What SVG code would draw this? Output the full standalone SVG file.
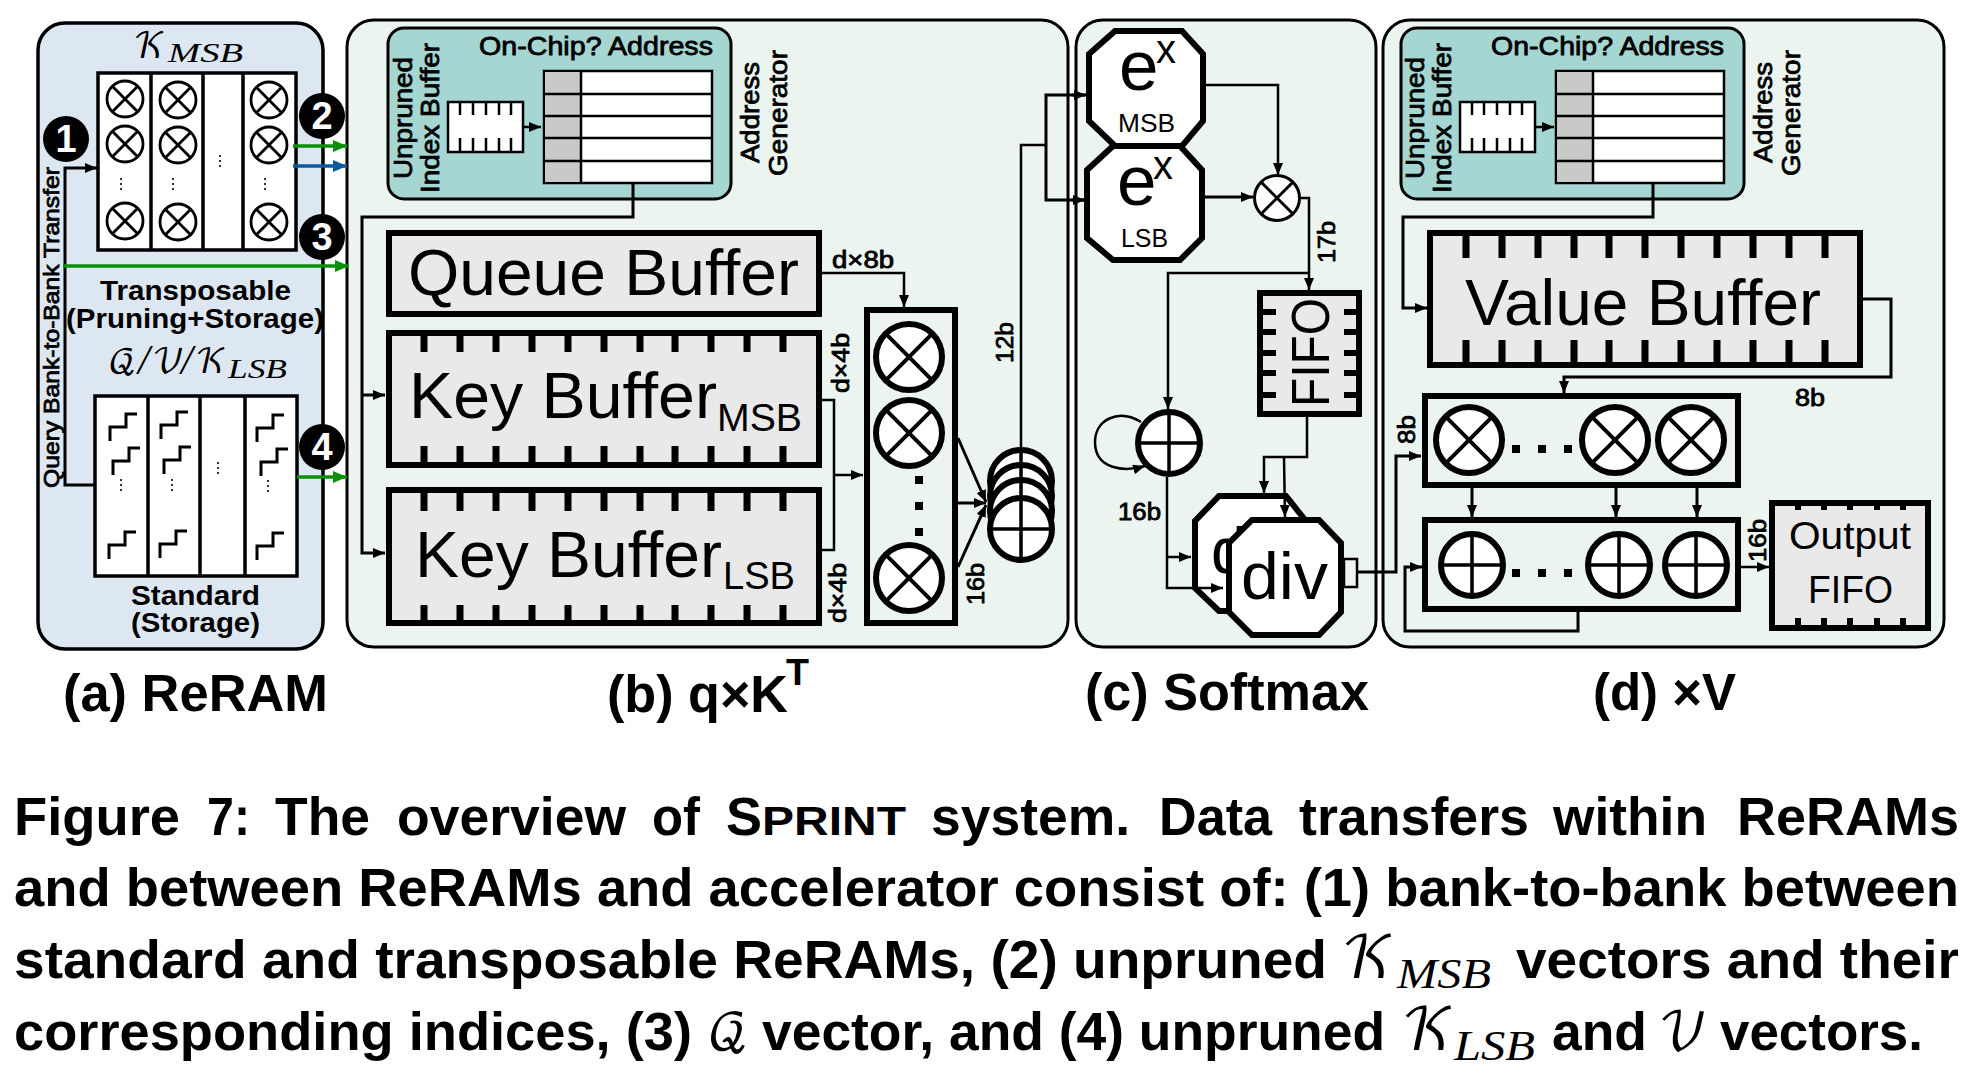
<svg xmlns="http://www.w3.org/2000/svg" width="1974" height="1072" viewBox="0 0 1974 1072">
<style>
text{font-family:"Liberation Sans",Arial,sans-serif;fill:#000}
.b{font-weight:bold}
.m{stroke:#000;stroke-width:.8}
.cal{font-family:"DejaVu Math TeX Gyre","Liberation Serif",serif;font-style:normal}
.mi{font-family:"Liberation Serif",serif;font-style:italic}
.panelA{fill:#dde7f1;stroke:#000;stroke-width:3.5}
.panel{fill:#ebf4ef;stroke:#000;stroke-width:3}
.teal{fill:#a6d6d2;stroke:#000;stroke-width:3}
.arr{fill:#fff;stroke:#000;stroke-width:3.5}
.w2{fill:#fff;stroke:#000;stroke-width:2.5}
.grey{fill:#c9c9c9}
.thin{fill:none;stroke:#000;stroke-width:2.5}
.buf{fill:#e9e9e9;stroke:#000;stroke-width:6}
.box{fill:none;stroke:#000;stroke-width:6}
.oct{fill:#fff;stroke:#000;stroke-width:6;stroke-linejoin:miter}
.tick{fill:none;stroke:#000;stroke-width:7}
.tk2{fill:none;stroke:#000;stroke-width:2.5}
.con{fill:none;stroke:#000;stroke-width:2.5}
.con3{fill:none;stroke:#000;stroke-width:3}
.gr{fill:none;stroke:#0a8f0a;stroke-width:3.5}
.bl{fill:none;stroke:#0a5a9c;stroke-width:3.5}
.dash{fill:none;stroke:#000;stroke-width:1.6;stroke-dasharray:2 3}
.step{fill:none;stroke:#000;stroke-width:3}
.badge{fill:#000}
.digit{fill:#fff;font-weight:bold;font-size:38px;text-anchor:middle}
.sq{fill:#000}
</style>
<defs>
<marker id="a" viewBox="0 0 12 10" refX="12" refY="5" markerWidth="12" markerHeight="10" markerUnits="userSpaceOnUse" orient="auto"><path d="M0 0L12 5L0 10z" fill="#000"/></marker>
<marker id="ag" viewBox="0 0 14 12" refX="14" refY="6" markerWidth="14" markerHeight="12" markerUnits="userSpaceOnUse" orient="auto"><path d="M0 0L14 6L0 12z" fill="#0a8f0a"/></marker>
<marker id="ab" viewBox="0 0 14 12" refX="14" refY="6" markerWidth="14" markerHeight="12" markerUnits="userSpaceOnUse" orient="auto"><path d="M0 0L14 6L0 12z" fill="#0a5a9c"/></marker>
<g id="otS"><circle r="18" fill="#fff" stroke="#000" stroke-width="2.8"/><path d="M-12.700-12.700L12.700 12.700M12.700-12.700L-12.700 12.700" stroke="#000" stroke-width="2.8"/></g>
<g id="otB"><circle r="33" fill="#fff" stroke="#000" stroke-width="6"/><path d="M-23.300-23.300L23.300 23.300M23.300-23.300L-23.300 23.300" stroke="#000" stroke-width="4"/></g>
<g id="opB"><circle r="31" fill="#fff" stroke="#000" stroke-width="6"/><path d="M-31 0H31M0-31V31" stroke="#000" stroke-width="3.5"/></g>
<g id="smallBuf"><rect width="75" height="50" class="w2"/></g>
<g id="table"><rect width="168" height="112" class="w2"/><rect x="1" y="1" width="36" height="110" class="grey"/><path d="M37 0V112M0 23H168M0 45H168M0 67H168M0 90H168" class="thin"/></g>
<g id="st"><path d="M0 0V-14H16V-27H27" class="step"/></g>
</defs>

<rect id="panel-a" x="38" y="23" width="285" height="626" rx="27" class="panelA"/>
<rect id="panel-b" x="347" y="20" width="721" height="627" rx="27" class="panel"/>
<rect id="panel-c" x="1076" y="20" width="300" height="627" rx="27" class="panel"/>
<rect id="panel-d" x="1383" y="20" width="561" height="627" rx="27" class="panel"/>

<g id="array-transposable">
<rect x="98" y="73" width="198" height="177" class="arr"/>
<path d="M151 73V250M203 73V250M243 73V250" class="arr"/>
<use href="#otS" x="125" y="99"/><use href="#otS" x="125" y="144"/><use href="#otS" x="125" y="221"/>
<use href="#otS" x="178" y="100"/><use href="#otS" x="178" y="145"/><use href="#otS" x="178" y="222"/>
<use href="#otS" x="269" y="100"/><use href="#otS" x="269" y="145"/><use href="#otS" x="269" y="222"/>
<path d="M121 178V190M173 178V190M220 155V167M265 178V190" class="dash"/>
</g>
<g id="array-standard">
<rect x="95" y="396" width="202" height="180" class="arr"/>
<path d="M148 396V576M200 396V576M245 396V576" class="arr"/>
<use href="#st" x="110" y="441"/><use href="#st" x="113" y="475"/><use href="#st" x="109" y="559"/>
<use href="#st" x="161" y="439"/><use href="#st" x="164" y="474"/><use href="#st" x="160" y="558"/>
<use href="#st" x="257" y="442"/><use href="#st" x="261" y="476"/><use href="#st" x="257" y="560"/>
<path d="M121 479V491M172 479V491M218 462V474M268 480V492" class="dash"/>
</g>

<g id="badges">
<circle cx="66" cy="139" r="23" class="badge"/><text x="66" y="152" class="digit">1</text>
<circle cx="322" cy="116" r="23" class="badge"/><text x="322" y="129" class="digit">2</text>
<circle cx="322" cy="237" r="23" class="badge"/><text x="322" y="250" class="digit">3</text>
<circle cx="322" cy="447" r="23" class="badge"/><text x="322" y="460" class="digit">4</text>
</g>

<g id="labels-a">
<text x="133" y="58" font-size="35" class="cal">𝒦</text>
<text x="168" y="62" font-size="27" class="mi" textLength="75" lengthAdjust="spacingAndGlyphs">MSB</text>
<text x="108" y="373" font-size="34" class="cal">𝒬</text>
<text x="138" y="374" font-size="42" class="mi">/</text>
<text x="152" y="373" font-size="34" class="cal">𝒱</text>
<text x="181" y="374" font-size="42" class="mi">/</text>
<text x="195" y="373" font-size="34" class="cal">𝒦</text>
<text x="228" y="378" font-size="27" class="mi" textLength="59" lengthAdjust="spacingAndGlyphs">LSB</text>
<text transform="translate(59,488) rotate(-90)" font-size="22" class="m" textLength="321" lengthAdjust="spacingAndGlyphs">Query Bank-to-Bank Transfer</text>
<text x="100" y="300" font-size="28" class="b" textLength="191" lengthAdjust="spacingAndGlyphs">Transposable</text>
<text x="66" y="328" font-size="28" class="b" textLength="258" lengthAdjust="spacingAndGlyphs">(Pruning+Storage)</text>
<text x="131" y="605" font-size="28" class="b" textLength="129" lengthAdjust="spacingAndGlyphs">Standard</text>
<text x="131" y="632" font-size="28" class="b" textLength="129" lengthAdjust="spacingAndGlyphs">(Storage)</text>
</g>

<g id="addr-gen-b">
<rect x="388" y="28" width="343" height="171" rx="16" class="teal"/>
<text x="479" y="55" font-size="26" class="m" textLength="234" lengthAdjust="spacingAndGlyphs">On-Chip?  Address</text>
<use href="#table" x="544" y="71"/>
<use href="#smallBuf" x="448" y="102"/>
<path d="M460 102V115M473 102V115M486 102V115M499 102V115M511 102V115M460 138V152M473 138V152M486 138V152M499 138V152M511 138V152" class="tk2"/>
<text transform="translate(412,179) rotate(-90)" font-size="26" class="m" textLength="122" lengthAdjust="spacingAndGlyphs">Unpruned</text>
<text transform="translate(439,193) rotate(-90)" font-size="26" class="m" textLength="150" lengthAdjust="spacingAndGlyphs">Index Buffer</text>
<text transform="translate(759,163) rotate(-90)" font-size="26" class="m" textLength="101" lengthAdjust="spacingAndGlyphs">Address</text>
<text transform="translate(787,176) rotate(-90)" font-size="26" class="m" textLength="126" lengthAdjust="spacingAndGlyphs">Generator</text>
</g>
<g id="queue-buffer">
<rect x="389" y="233" width="430" height="81" class="buf"/>
<text x="408" y="295" font-size="64" textLength="391" lengthAdjust="spacingAndGlyphs">Queue Buffer</text>
</g>
<g id="key-buffer-msb">
<rect x="389" y="333" width="430" height="132" class="buf"/>
<path d="M424 333V352M460 333V352M496 333V352M532 333V352M568 333V352M604 333V352M640 333V352M675 333V352M711 333V352M747 333V352M783 333V352M424 446V465M460 446V465M496 446V465M532 446V465M568 446V465M604 446V465M640 446V465M675 446V465M711 446V465M747 446V465M783 446V465" class="tick"/>
<text x="409" y="418" font-size="64" textLength="308" lengthAdjust="spacingAndGlyphs">Key Buffer</text>
<text x="717" y="431" font-size="38" textLength="85" lengthAdjust="spacingAndGlyphs">MSB</text>
</g>
<g id="key-buffer-lsb">
<rect x="389" y="490" width="430" height="133" class="buf"/>
<path d="M424 490V511M460 490V511M496 490V511M532 490V511M568 490V511M604 490V511M640 490V511M675 490V511M711 490V511M747 490V511M783 490V511M424 605V623M460 605V623M496 605V623M532 605V623M568 605V623M604 605V623M640 605V623M675 605V623M711 605V623M747 605V623M783 605V623" class="tick"/>
<text x="415" y="577" font-size="64" textLength="307" lengthAdjust="spacingAndGlyphs">Key Buffer</text>
<text x="723" y="589" font-size="38" textLength="72" lengthAdjust="spacingAndGlyphs">LSB</text>
</g>
<g id="mult-column">
<rect x="867" y="310" width="88" height="313" class="box"/>
<use href="#otB" x="909" y="357"/><use href="#otB" x="909" y="433"/><use href="#otB" x="909" y="578"/>
<rect x="915" y="476" width="8" height="8" class="sq"/><rect x="915" y="502" width="8" height="8" class="sq"/><rect x="915" y="528" width="8" height="8" class="sq"/>
</g>
<g id="adder-stack">
<use href="#opB" x="1021" y="481"/><use href="#opB" x="1021" y="496"/><use href="#opB" x="1021" y="511"/><use href="#opB" x="1021" y="529"/>
</g>
<g id="labels-b">
<text x="832" y="268" font-size="23" class="m" textLength="62" lengthAdjust="spacingAndGlyphs">d×8b</text>
<text transform="translate(849,393) rotate(-90)" font-size="23" class="m" textLength="60" lengthAdjust="spacingAndGlyphs">d×4b</text>
<text transform="translate(846,623) rotate(-90)" font-size="23" class="m" textLength="60" lengthAdjust="spacingAndGlyphs">d×4b</text>
<text transform="translate(1013,363) rotate(-90)" font-size="23" class="m" textLength="41" lengthAdjust="spacingAndGlyphs">12b</text>
<text transform="translate(984,605) rotate(-90)" font-size="23" class="m" textLength="42" lengthAdjust="spacingAndGlyphs">16b</text>
</g>

<g id="ex-msb">
<path d="M1115 31H1182L1203 54V121L1182 146H1115L1089 121V54Z" class="oct"/>
<text x="1119" y="90" font-size="71">e</text><text x="1156" y="63" font-size="40">x</text>
<text x="1118" y="132" font-size="26" textLength="57" lengthAdjust="spacingAndGlyphs">MSB</text>
</g>
<g id="ex-lsb">
<path d="M1113 146H1180L1202 170V238L1180 260H1113L1087 238V170Z" class="oct"/>
<text x="1117" y="205" font-size="71">e</text><text x="1153" y="179" font-size="40">x</text>
<text x="1121" y="247" font-size="26" textLength="47" lengthAdjust="spacingAndGlyphs">LSB</text>
</g>
<g id="mul-c">
<circle cx="1277" cy="198" r="22.500" fill="#fff" stroke="#000" stroke-width="3"/>
<path d="M1261 182L1293 214M1293 182L1261 214" stroke="#000" stroke-width="3"/>
</g>
<g id="fifo-c">
<rect x="1260" y="293" width="99" height="121" class="buf"/>
<path d="M1258 312H1276M1258 332H1276M1258 353H1276M1258 373H1276M1258 395H1276M1344 312H1361M1344 332H1361M1344 353H1361M1344 373H1361M1344 395H1361" class="con" style="stroke-width:6"/>
<text transform="translate(1329,407) rotate(-90)" font-size="54" textLength="109" lengthAdjust="spacingAndGlyphs">FIFO</text>
</g>
<g id="adder-c"><use href="#opB" x="1169" y="443"/></g>
<g id="div-back">
<path d="M1219 496H1286L1325 545V588L1286 611H1219L1195 588V521Z" class="oct"/>
<text x="1211" y="573" font-size="64">div</text>
</g>
<g id="div-front">
<path d="M1252 520H1319L1341 543V612L1319 635H1252L1229 612V543Z" class="oct"/>
<text x="1241" y="599" font-size="66" textLength="87" lengthAdjust="spacingAndGlyphs">div</text>
<rect x="1344" y="559" width="13" height="28" fill="#ebf4ef" stroke="#000" stroke-width="2.500"/>
</g>
<g id="labels-c">
<text transform="translate(1335,263) rotate(-90)" font-size="23" class="m" textLength="42" lengthAdjust="spacingAndGlyphs">17b</text>
<text x="1118" y="520" font-size="23" class="m" textLength="43" lengthAdjust="spacingAndGlyphs">16b</text>
</g>

<g id="addr-gen-d">
<rect x="1401" y="28" width="343" height="171" rx="16" class="teal"/>
<text x="1491" y="55" font-size="26" class="m" textLength="233" lengthAdjust="spacingAndGlyphs">On-Chip?  Address</text>
<use href="#table" x="1556" y="71"/>
<use href="#smallBuf" x="1460" y="102"/>
<path d="M1472 102V115M1484 102V115M1497 102V115M1510 102V115M1522 102V115M1472 138V152M1484 138V152M1497 138V152M1510 138V152M1522 138V152" class="tk2"/>
<text transform="translate(1424,179) rotate(-90)" font-size="26" class="m" textLength="122" lengthAdjust="spacingAndGlyphs">Unpruned</text>
<text transform="translate(1451,193) rotate(-90)" font-size="26" class="m" textLength="150" lengthAdjust="spacingAndGlyphs">Index Buffer</text>
<text transform="translate(1772,163) rotate(-90)" font-size="26" class="m" textLength="101" lengthAdjust="spacingAndGlyphs">Address</text>
<text transform="translate(1800,176) rotate(-90)" font-size="26" class="m" textLength="126" lengthAdjust="spacingAndGlyphs">Generator</text>
</g>
<g id="value-buffer">
<rect x="1430" y="233" width="430" height="132" class="buf"/>
<path d="M1466 233V258M1502 233V258M1538 233V258M1574 233V258M1609 233V258M1645 233V258M1681 233V258M1717 233V258M1753 233V258M1789 233V258M1825 233V258M1466 340V365M1502 340V365M1538 340V365M1574 340V365M1609 340V365M1645 340V365M1681 340V365M1717 340V365M1753 340V365M1789 340V365M1825 340V365" class="tick"/>
<text x="1465" y="325" font-size="64" textLength="356" lengthAdjust="spacingAndGlyphs">Value Buffer</text>
</g>
<g id="mult-row">
<rect x="1425" y="396" width="313" height="89" class="box"/>
<use href="#otB" x="1469" y="440"/><use href="#otB" x="1615" y="440"/><use href="#otB" x="1691" y="440"/>
<rect x="1512" y="445" width="8" height="8" class="sq"/><rect x="1538" y="445" width="8" height="8" class="sq"/><rect x="1564" y="445" width="8" height="8" class="sq"/>
</g>
<g id="add-row">
<rect x="1425" y="520" width="313" height="89" class="box"/>
<use href="#opB" x="1472" y="565"/><use href="#opB" x="1619" y="565"/><use href="#opB" x="1696" y="565"/>
<rect x="1512" y="569" width="8" height="8" class="sq"/><rect x="1538" y="569" width="8" height="8" class="sq"/><rect x="1564" y="569" width="8" height="8" class="sq"/>
</g>
<g id="output-fifo">
<rect x="1772" y="503" width="156" height="125" class="buf"/>
<path d="M1798 503V510M1824 503V510M1850 503V510M1877 503V510M1903 503V510M1798 618V628M1824 618V628M1850 618V628M1877 618V628M1903 618V628" class="con" style="stroke-width:6"/>
<text x="1789" y="549" font-size="38" textLength="122" lengthAdjust="spacingAndGlyphs">Output</text>
<text x="1808" y="603" font-size="38" textLength="85" lengthAdjust="spacingAndGlyphs">FIFO</text>
</g>
<g id="labels-d">
<text x="1795" y="406" font-size="23" class="m" textLength="30" lengthAdjust="spacingAndGlyphs">8b</text>
<text transform="translate(1415,444) rotate(-90)" font-size="23" class="m" textLength="29" lengthAdjust="spacingAndGlyphs">8b</text>
<text transform="translate(1766,562) rotate(-90)" font-size="23" class="m" textLength="43" lengthAdjust="spacingAndGlyphs">16b</text>
</g>

<g id="connectors">
<path d="M94 485H65V168H97" class="con3" marker-end="url(#a)"/>
<path d="M293 146H347" class="gr" marker-end="url(#ag)"/>
<path d="M293 166H347" class="bl" marker-end="url(#ab)"/>
<path d="M63 266H349" class="gr" marker-end="url(#ag)"/>
<path d="M297 477H347" class="gr" marker-end="url(#ag)"/>
<path d="M523 127H541" class="con" marker-end="url(#a)"/>
<path d="M633 183V217H362V553H385" class="con3" marker-end="url(#a)"/>
<path d="M362 395H385" class="con3" marker-end="url(#a)"/>
<path d="M822 400H834V550H822" class="con"/>
<path d="M834 475H863" class="con" marker-end="url(#a)"/>
<path d="M822 273H904V307" class="con" marker-end="url(#a)"/>
<path d="M958 438L986 502" class="con3" marker-end="url(#a)"/>
<path d="M958 503H986" class="con3" marker-end="url(#a)"/>
<path d="M958 567L986 505" class="con3" marker-end="url(#a)"/>
<path d="M1021 450V145H1046" class="con"/>
<path d="M1085 95H1046V200H1085" class="con3"/>
<path d="M1072 95H1086" class="con3" marker-end="url(#a)"/>
<path d="M1072 200H1085" class="con3" marker-end="url(#a)"/>
<path d="M1206 85H1278V175" class="con" marker-end="url(#a)"/>
<path d="M1205 197H1253" class="con3" marker-end="url(#a)"/>
<path d="M1300 198H1309V290" class="con" marker-end="url(#a)"/>
<path d="M1309 273H1168V409" class="con" marker-end="url(#a)"/>
<path d="M1141 422C1118 408 1095 420 1095 442C1095 470 1125 472 1145 466" class="con" marker-end="url(#a)"/>
<path d="M1167 477V588H1223" class="con" marker-end="url(#a)"/>
<path d="M1167 557H1191" class="con" marker-end="url(#a)"/>
<path d="M1307 417V457H1264V493" class="con" marker-end="url(#a)"/>
<path d="M1284 457L1285 517" class="con" marker-end="url(#a)"/>
<path d="M1357 572H1396V456H1421" class="con3" marker-end="url(#a)"/>
<path d="M1536 127H1554" class="con" marker-end="url(#a)"/>
<path d="M1653 183V217H1403V308H1427" class="con3" marker-end="url(#a)"/>
<path d="M1863 299H1891V377H1564V393" class="con3" marker-end="url(#a)"/>
<path d="M1472 488V517" class="con3" marker-end="url(#a)"/>
<path d="M1616 488V517" class="con3" marker-end="url(#a)"/>
<path d="M1697 488V517" class="con3" marker-end="url(#a)"/>
<path d="M1578 612V631H1405V567H1422" class="con3" marker-end="url(#a)"/>
<path d="M1741 567H1769" class="con" marker-end="url(#a)"/>
</g>

<g id="subtitles" class="b">
<text x="63" y="711" font-size="51" class="b" textLength="265" lengthAdjust="spacingAndGlyphs">(a) ReRAM</text>
<text x="607" y="712" font-size="51" class="b" textLength="181" lengthAdjust="spacingAndGlyphs">(b) q×K</text>
<text x="786" y="685" font-size="37" class="b" textLength="23" lengthAdjust="spacingAndGlyphs">T</text>
<text x="1085" y="710" font-size="51" class="b" textLength="284" lengthAdjust="spacingAndGlyphs">(c) Softmax</text>
<text x="1593" y="710" font-size="51" class="b" textLength="143" lengthAdjust="spacingAndGlyphs">(d) ×V</text>
</g>

<g id="caption" font-size="53">
<text x="14" y="835" font-size="53" class="b" textLength="166" lengthAdjust="spacingAndGlyphs">Figure</text>
<text x="207" y="835" font-size="53" class="b" textLength="43" lengthAdjust="spacingAndGlyphs">7:</text>
<text x="275" y="835" font-size="53" class="b" textLength="95" lengthAdjust="spacingAndGlyphs">The</text>
<text x="397" y="835" font-size="53" class="b" textLength="229" lengthAdjust="spacingAndGlyphs">overview</text>
<text x="652" y="835" font-size="53" class="b" textLength="48" lengthAdjust="spacingAndGlyphs">of</text>
<text x="726" y="835" font-size="53" class="b" textLength="36" lengthAdjust="spacingAndGlyphs">S</text>
<text x="762" y="835" font-size="41" class="b" textLength="144" lengthAdjust="spacingAndGlyphs">PRINT</text>
<text x="931" y="835" font-size="53" class="b" textLength="199" lengthAdjust="spacingAndGlyphs">system.</text>
<text x="1159" y="835" font-size="53" class="b" textLength="113" lengthAdjust="spacingAndGlyphs">Data</text>
<text x="1299" y="835" font-size="53" class="b" textLength="230" lengthAdjust="spacingAndGlyphs">transfers</text>
<text x="1553" y="835" font-size="53" class="b" textLength="154" lengthAdjust="spacingAndGlyphs">within</text>
<text x="1737" y="835" font-size="53" class="b" textLength="222" lengthAdjust="spacingAndGlyphs">ReRAMs</text>
<text x="14" y="906" font-size="53" class="b" textLength="1945" lengthAdjust="spacingAndGlyphs">and between ReRAMs and accelerator consist of: (1) bank-to-bank between</text>
<text x="14" y="978" font-size="53" class="b" textLength="1313" lengthAdjust="spacingAndGlyphs">standard and transposable ReRAMs, (2) unpruned</text>
<text x="1341" y="978" font-size="58" class="cal">𝒦</text>
<text x="1397" y="988" font-size="43" class="mi" textLength="94" lengthAdjust="spacingAndGlyphs">MSB</text>
<text x="1516" y="978" font-size="53" class="b" textLength="443" lengthAdjust="spacingAndGlyphs">vectors and their</text>
<text x="14" y="1050" font-size="53" class="b" textLength="678" lengthAdjust="spacingAndGlyphs">corresponding indices, (3)</text>
<text x="707" y="1050" font-size="50" class="cal">𝒬</text>
<text x="762" y="1050" font-size="53" class="b" textLength="623" lengthAdjust="spacingAndGlyphs">vector, and (4) unpruned</text>
<text x="1401" y="1050" font-size="58" class="cal">𝒦</text>
<text x="1454" y="1060" font-size="43" class="mi" textLength="81" lengthAdjust="spacingAndGlyphs">LSB</text>
<text x="1552" y="1050" font-size="53" class="b" textLength="95" lengthAdjust="spacingAndGlyphs">and</text>
<text x="1658" y="1050" font-size="52" class="cal">𝒱</text>
<text x="1720" y="1050" font-size="53" class="b" textLength="203" lengthAdjust="spacingAndGlyphs">vectors.</text>
</g>
</svg>
